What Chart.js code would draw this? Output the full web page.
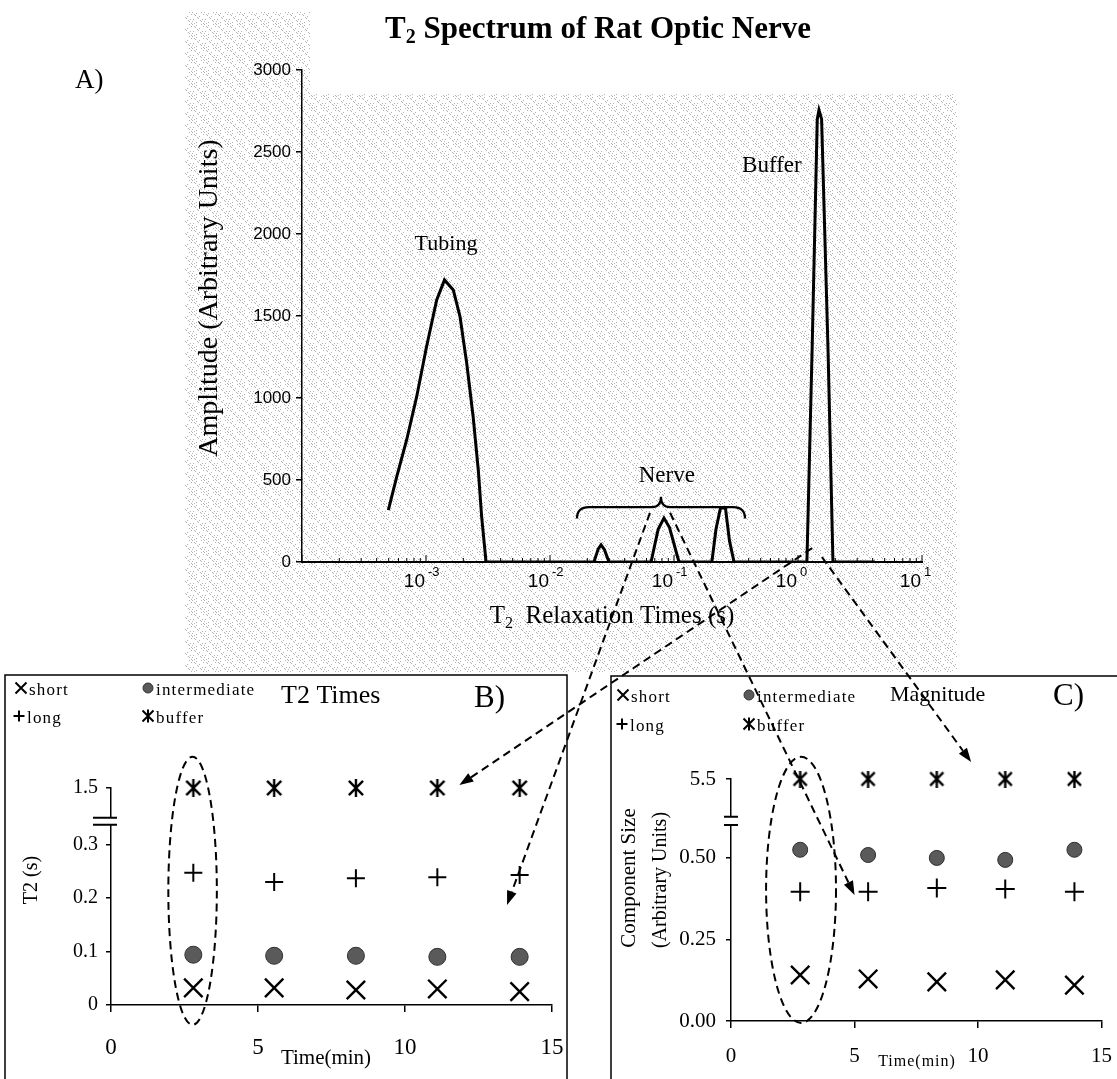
<!DOCTYPE html>
<html>
<head>
<meta charset="utf-8">
<title>T2 Spectrum of Rat Optic Nerve</title>
<script src="https://cdn.jsdelivr.net/npm/chart.js@4.4.1/dist/chart.umd.min.js"></script>
<style>
  body { margin: 0; background: #fff; }
  #page { position: relative; width: 1117px; height: 1079px; overflow: hidden; }
  #page canvas { position: absolute; left: 0; top: 0; }
</style>
</head>
<body>
<div id="page">
  <canvas id="specChart" width="1117" height="1079"></canvas>
  <canvas id="timesChart" width="1117" height="1079"></canvas>
  <canvas id="sizeChart" width="1117" height="1079"></canvas>
  <canvas id="notes" width="1117" height="1079"></canvas>
</div>
<script>
// A) T2 spectrum: relaxation time (s) vs amplitude
let specT2 = [4.97e-4, 5.81e-4, 6.98e-4, 8.41e-4, 1.01e-3, 1.22e-3, 1.41e-3, 1.66e-3, 1.88e-3, 2.13e-3,
  2.40e-3, 2.64e-3, 2.81e-3, 3.05e-3,
  0.0226, 0.0245, 0.0258, 0.0275, 0.0299,
  0.0653, 0.0745, 0.083, 0.092, 0.1097,
  0.202, 0.218, 0.237, 0.260, 0.280, 0.305,
  1.18, 1.30, 1.43, 1.476, 1.55, 1.75, 1.914, 4.18];
let specAmp = [317, 520, 744, 1008, 1313, 1598, 1720, 1659, 1496, 1212,
  886, 561, 276, 0,
  0, 80, 104, 75, 0,
  0, 200, 268, 210, 0,
  0, 200, 330, 330, 130, 0,
  0, 1300, 2700, 2756, 2700, 1270, 0, 0];
let decades = [1e-3, 1e-2, 1e-1, 1, 10];

// B) and C) components at five time points
let timeMin = [2.8, 5.55, 8.33, 11.1, 13.9];
let t2Short = [0.032, 0.032, 0.028, 0.030, 0.025];
let t2Intermediate = [0.094, 0.092, 0.092, 0.090, 0.090];
let t2Long = [0.247, 0.230, 0.237, 0.239, 0.243];
let t2Buffer = [1.5, 1.5, 1.5, 1.5, 1.5];
let sizeShort = [0.141, 0.129, 0.120, 0.126, 0.110];
let sizeIntermediate = [0.525, 0.509, 0.500, 0.494, 0.525];
let sizeLong = [0.396, 0.396, 0.408, 0.405, 0.396];
let sizeBuffer = [5.5, 5.5, 5.5, 5.5, 5.5];
let t2TickLabels = ['0', '0.1', '0.2', '0.3', '1.5'];
let sizeTickLabels = ['0.00', '0.25', '0.50', '5.5'];

// broken y axes: buffer values sit just above the break
let t2Top = 0.4056, sizeTop = 0.742;
let t2Axis = v => v > 1 ? t2Top + (v - 1.5) : v;
let sizeAxis = v => v > 1 ? sizeTop + (v - 5.5) : v;

const SERIF = "'Liberation Serif', 'Times New Roman', serif";
const SANS = "'Liberation Sans', Arial, sans-serif";
Chart.defaults.color = '#000';

function asterisk(size, lw) {
  let c = document.createElement('canvas');
  c.width = c.height = size;
  let g = c.getContext('2d');
  g.strokeStyle = '#000'; g.lineWidth = lw;
  let m = lw * 0.8;
  g.beginPath();
  g.moveTo(m, m); g.lineTo(size - m, size - m);
  g.moveTo(size - m, m); g.lineTo(m, size - m);
  g.moveTo(size / 2, 0); g.lineTo(size / 2, size);
  g.stroke();
  return c;
}

function marker(ctx, style, x, y, r) {
  ctx.save();
  ctx.strokeStyle = '#000'; ctx.lineWidth = 2;
  ctx.beginPath();
  if (style === 'crossRot' || style === 'asterisk') {
    ctx.moveTo(x - r, y - r); ctx.lineTo(x + r, y + r);
    ctx.moveTo(x + r, y - r); ctx.lineTo(x - r, y + r);
    if (style === 'asterisk') { ctx.moveTo(x, y - r - 1); ctx.lineTo(x, y + r + 1); }
    ctx.stroke();
  } else if (style === 'cross') {
    ctx.moveTo(x - r, y); ctx.lineTo(x + r, y);
    ctx.moveTo(x, y - r); ctx.lineTo(x, y + r);
    ctx.stroke();
  } else {
    ctx.arc(x, y, r, 0, Math.PI * 2);
    ctx.fillStyle = '#5a5a5a'; ctx.fill();
    ctx.lineWidth = 1; ctx.strokeStyle = '#333'; ctx.stroke();
  }
  ctx.restore();
}

function richText(ctx, parts, cx, base) {
  let w = 0;
  parts.forEach(p => { ctx.font = p.font; w += ctx.measureText(p.t).width; });
  let xx = cx - w / 2;
  ctx.textAlign = 'left'; ctx.textBaseline = 'alphabetic';
  parts.forEach(p => {
    ctx.font = p.font;
    ctx.fillText(p.t, xx, base + (p.dy || 0));
    xx += ctx.measureText(p.t).width;
  });
}

function text(ctx, s, x, y, font, align, spacing) {
  ctx.save();
  ctx.font = font; ctx.fillStyle = '#000';
  ctx.textAlign = align || 'left'; ctx.textBaseline = 'alphabetic';
  if (spacing) ctx.letterSpacing = spacing;
  ctx.fillText(s, x, y);
  ctx.restore();
}

function vText(ctx, s, x, y, font) {
  ctx.save();
  ctx.translate(x, y); ctx.rotate(-Math.PI / 2);
  ctx.font = font; ctx.fillStyle = '#000';
  ctx.textAlign = 'center'; ctx.textBaseline = 'middle';
  ctx.fillText(s, 0, 0);
  ctx.restore();
}

// scanned-paper halftone behind panel A (fixed dot layout)
function stipple(ctx) {
  let n = 12;
  let c = document.createElement('canvas');
  c.width = c.height = n;
  let g = c.getContext('2d');
  g.fillStyle = '#fff'; g.fillRect(0, 0, n, n);
  g.fillStyle = '#b4b4b4';
  for (let i = 0; i < n; i++) {
    for (let j = 0; j < n; j++) {
      if ((i * 7 + j * 5 + i * j * 3) % 9 === 0) g.fillRect(i, j, 1, 1);
    }
  }
  return ctx.createPattern(c, 'repeat');
}

const specDecor = {
  id: 'specDecor',
  beforeDraw(chart) {
    let ctx = chart.ctx;
    ctx.save();
    ctx.fillStyle = stipple(ctx);
    ctx.fillRect(185, 12, 125, 660);
    ctx.fillRect(185, 94, 772, 578);
    ctx.restore();
  },
  afterDraw(chart) {
    let {ctx, chartArea, scales: {x, y}} = chart;
    ctx.save();
    ctx.fillStyle = '#000'; ctx.strokeStyle = '#000';

    // log ticks pointing into the plot
    ctx.lineWidth = 1;
    ctx.beginPath();
    for (let e = -4; e <= 0; e++) {
      for (let m = 1; m <= 9; m++) {
        let p = x.getPixelForValue(m * Math.pow(10, e));
        ctx.moveTo(p, chartArea.bottom);
        ctx.lineTo(p, chartArea.bottom - (m === 1 ? 7 : 4));
      }
    }
    let pEnd = x.getPixelForValue(10);
    ctx.moveTo(pEnd, chartArea.bottom); ctx.lineTo(pEnd, chartArea.bottom - 7);
    ctx.stroke();

    // decade labels 10^n
    decades.forEach(v => {
      let p = x.getPixelForValue(v);
      text(ctx, '10', p - 1, chartArea.bottom + 25, '19px ' + SANS, 'right');
      text(ctx, String(Math.round(Math.log10(v))), p + 2, chartArea.bottom + 14, '13px ' + SANS, 'left');
    });

    // titles
    ctx.fillStyle = '#000';
    richText(ctx, [
      {t: 'T', font: 'bold 31px ' + SERIF},
      {t: '2', font: 'bold 20px ' + SERIF, dy: 5},
      {t: ' Spectrum of Rat Optic Nerve', font: 'bold 31px ' + SERIF}
    ], 598, 38);
    richText(ctx, [
      {t: 'T', font: '25px ' + SERIF},
      {t: '2', font: '16px ' + SERIF, dy: 5},
      {t: '  Relaxation Times (s)', font: '25px ' + SERIF}
    ], (chartArea.left + chartArea.right) / 2, 623);
    vText(ctx, 'Amplitude (Arbitrary Units)', 210, 298, '28px ' + SERIF);
    text(ctx, 'A)', 75, 88, '27px ' + SERIF);
    text(ctx, 'Tubing', x.getPixelForValue(1.45e-3), y.getPixelForValue(1900), '22px ' + SERIF, 'center');
    text(ctx, 'Buffer', x.getPixelForValue(0.616), y.getPixelForValue(2380), '23px ' + SERIF, 'center');
    text(ctx, 'Nerve', x.getPixelForValue(0.0875), y.getPixelForValue(490), '23px ' + SERIF, 'center');

    // brace over the nerve peaks
    let bl = x.getPixelForValue(0.0165), br = x.getPixelForValue(0.374), bm = x.getPixelForValue(0.0785);
    let yLine = y.getPixelForValue(335), yEnd = y.getPixelForValue(265), yTip = y.getPixelForValue(398);
    ctx.lineWidth = 2.2;
    ctx.beginPath();
    ctx.moveTo(bl, yEnd);
    ctx.quadraticCurveTo(bl, yLine, bl + 12, yLine);
    ctx.lineTo(bm - 9, yLine);
    ctx.quadraticCurveTo(bm, yLine, bm, yTip);
    ctx.quadraticCurveTo(bm, yLine, bm + 9, yLine);
    ctx.lineTo(br - 12, yLine);
    ctx.quadraticCurveTo(br, yLine, br, yEnd);
    ctx.stroke();
    ctx.restore();
  }
};

function panelDecor(o) {
  return {
    id: 'panelDecor',
    afterDraw(chart) {
      let {ctx, chartArea, scales: {y}} = chart;
      ctx.save();
      ctx.strokeStyle = '#000'; ctx.lineWidth = 1.5;
      ctx.strokeRect(o.box[0], o.box[1], o.box[2], o.box[3]);

      // legend: two columns, two rows
      o.legend.forEach(l => {
        marker(ctx, l.style, l.x, l.y, l.style === 'circle' ? 5 : 5.5);
        text(ctx, l.name, l.x + 8, l.y + 7, '17px ' + SERIF, 'left', '1.2px');
      });
      text(ctx, o.title, o.titleX, o.titleY, o.titleFont, 'left');
      text(ctx, o.tag, o.tagX, o.titleY + 4, '31px ' + SERIF, 'left');

      // axis break marks
      let b0 = y.getPixelForValue(o.brk[0]), b1 = y.getPixelForValue(o.brk[1]);
      let ax = chartArea.left;
      ctx.fillStyle = '#fff';
      ctx.fillRect(ax - 2, b1, 4, b0 - b1);
      ctx.beginPath();
      ctx.moveTo(ax - o.brkW[0], b0); ctx.lineTo(ax + o.brkW[1], b0);
      ctx.moveTo(ax - o.brkW[0], b1); ctx.lineTo(ax + o.brkW[1], b1);
      ctx.lineWidth = 2; ctx.stroke();

      // axis titles
      text(ctx, 'Time(min)', o.xTitle[0], o.xTitle[1], o.xTitleFont, 'center', o.xTitleSpacing);
      o.yTitles.forEach(t => vText(ctx, t.s, t.x, t.y, t.font));
      ctx.restore();
    }
  };
}

function panelScales(yMax, yTicks, yLabels, tickFont, xFont, xPad, yPad, yWidth) {
  return {
    x: {
      type: 'linear', min: 0, max: 15,
      ticks: {stepSize: 5, autoSkip: false, maxRotation: 0, font: {family: SERIF, size: xFont}, padding: xPad, color: '#000'},
      grid: {drawOnChartArea: false, tickLength: 7, color: '#000', lineWidth: 1.5},
      border: {color: '#000', width: 1.5},
      afterFit(s) { s.height = 50; s.paddingLeft = 0; s.paddingRight = 0; }
    },
    y: {
      type: 'linear', min: 0, max: yMax,
      afterBuildTicks(s) { s.ticks = yTicks.map(v => ({value: v})); },
      ticks: {autoSkip: false, font: {family: SERIF, size: tickFont}, padding: yPad, color: '#000',
        callback: (v, i) => yLabels[i]},
      grid: {drawOnChartArea: false, tickLength: 5, color: '#000', lineWidth: 1.5},
      border: {color: '#000', width: 1.5},
      afterFit(s) { s.width = yWidth; s.paddingTop = 0; s.paddingBottom = 0; }
    }
  };
}

function pointSets(xs, short, inter, long, buffer, axisFn, sz) {
  return [
    {label: 'short', data: xs.map((t, i) => ({x: t, y: short[i]})), pointStyle: 'crossRot',
      pointRadius: sz.x, borderColor: '#000', borderWidth: 2.4},
    {label: 'intermediate', data: xs.map((t, i) => ({x: t, y: inter[i]})), pointStyle: 'circle',
      pointRadius: sz.c, backgroundColor: '#5a5a5a', borderColor: '#2e2e2e', borderWidth: 1},
    {label: 'long', data: xs.map((t, i) => ({x: t, y: long[i]})), pointStyle: 'cross',
      pointRadius: sz.p, borderColor: '#000', borderWidth: 2},
    {label: 'buffer', data: xs.map((t, i) => ({x: t, y: axisFn(buffer[i])})), pointStyle: asterisk(sz.a, 2.4),
      pointRadius: 8, borderColor: '#000'}
  ].map(d => Object.assign(d, {showLine: false, clip: false}));
}

const common = {
  responsive: false, animation: false, devicePixelRatio: 1,
  plugins: {legend: {display: false}, tooltip: {enabled: false}}
};

// A) spectrum
let specChart = new Chart(document.getElementById('specChart'), {
  type: 'line',
  data: {
    datasets: [{
      data: specT2.map((t, i) => ({x: t, y: specAmp[i]})),
      borderColor: '#000', borderWidth: 3, pointRadius: 0, tension: 0, fill: false
    }]
  },
  options: Object.assign({}, common, {
    layout: {padding: {left: 232, top: 70, right: 195, bottom: 477}},
    scales: {
      x: {
        type: 'logarithmic', min: 1e-4, max: 10,
        ticks: {display: false}, grid: {display: false},
        border: {color: '#000', width: 2},
        afterFit(s) { s.height = 40; s.paddingLeft = 0; s.paddingRight = 0; }
      },
      y: {
        min: 0, max: 3000,
        ticks: {stepSize: 500, font: {family: SANS, size: 17}, padding: 5, color: '#000',
          callback: v => String(v)},
        grid: {drawOnChartArea: false, tickLength: 6, color: '#000', lineWidth: 1.5},
        border: {color: '#000', width: 1.5},
        afterFit(s) { s.width = 70; s.paddingTop = 0; s.paddingBottom = 0; }
      }
    }
  }),
  plugins: [specDecor]
});

// B) T2 times
let timesChart = new Chart(document.getElementById('timesChart'), {
  type: 'scatter',
  data: {datasets: pointSets(timeMin, t2Short, t2Intermediate, t2Long, t2Buffer, t2Axis, {x: 13, c: 8.5, p: 9, a: 18})},
  options: Object.assign({}, common, {
    layout: {padding: {left: 51, top: 788, right: 565, bottom: 24}},
    scales: panelScales(t2Top, [0, 0.1, 0.2, 0.3, t2Top], t2TickLabels, 20, 23, 22, 8, 60)
  }),
  plugins: [panelDecor({
    box: [5, 675, 562, 420],
    legend: [
      {style: 'crossRot', name: 'short', x: 21, y: 688},
      {style: 'circle', name: 'intermediate', x: 148, y: 688},
      {style: 'cross', name: 'long', x: 19, y: 716},
      {style: 'asterisk', name: 'buffer', x: 148, y: 716}
    ],
    title: 'T2 Times', titleX: 281, titleY: 703, titleFont: '26px ' + SERIF,
    tag: 'B)', tagX: 474,
    brk: [0.337, 0.350], brkW: [18, 6],
    xTitle: [326, 1064], xTitleFont: '21px ' + SERIF,
    yTitles: [{s: 'T2 (s)', x: 32, y: 880, font: '20px ' + SERIF}]
  })]
});

// C) magnitude
let sizeChart = new Chart(document.getElementById('sizeChart'), {
  type: 'scatter',
  data: {datasets: pointSets(timeMin, sizeShort, sizeIntermediate, sizeLong, sizeBuffer, sizeAxis, {x: 13, c: 7.5, p: 9.5, a: 17})},
  options: Object.assign({}, common, {
    layout: {padding: {left: 661, top: 779, right: 5, bottom: 8}},
    scales: panelScales(sizeTop, [0, 0.25, 0.5, sizeTop], sizeTickLabels, 21, 21, 16, 10, 70)
  }),
  plugins: [panelDecor({
    box: [611, 676, 520, 420],
    legend: [
      {style: 'crossRot', name: 'short', x: 623, y: 695},
      {style: 'circle', name: 'intermediate', x: 749, y: 695},
      {style: 'cross', name: 'long', x: 622, y: 724},
      {style: 'asterisk', name: 'buffer', x: 749, y: 724}
    ],
    title: 'Magnitude', titleX: 890, titleY: 701, titleFont: '22px ' + SERIF,
    tag: 'C)', tagX: 1053,
    brk: [0.601, 0.626], brkW: [7, 7],
    xTitle: [917, 1066], xTitleFont: '16px ' + SERIF, xTitleSpacing: '1px',
    yTitles: [
      {s: 'Component Size', x: 629, y: 878, font: '21px ' + SERIF},
      {s: '(Arbitrary Units)', x: 661, y: 880, font: '20px ' + SERIF}
    ]
  })]
});

// dashed call-outs linking the spectrum peaks to panels B and C
let charts = {spec: specChart, times: timesChart, size: sizeChart};
let pointers = [
  {from: ['spec', 1.30, 85], to: ['times', 11.85, 0.411]},
  {from: ['spec', 0.064, 300], to: ['times', 13.47, 0.187]},
  {from: ['spec', 0.093, 300], to: ['size', 5.0, 0.386]},
  {from: ['spec', 1.56, 30], to: ['size', 9.72, 0.794]}
];
let ovals = [
  {chart: 'times', x: [1.95, 3.6], y: [-0.037, 0.464]},
  {chart: 'size', x: [1.42, 4.25], y: [-0.006, 0.81]}
];

function toPx(ref) {
  let c = charts[ref[0]];
  return [c.scales.x.getPixelForValue(ref[1]), c.scales.y.getPixelForValue(ref[2])];
}

let nctx = document.getElementById('notes').getContext('2d');
nctx.strokeStyle = '#000'; nctx.fillStyle = '#000';
pointers.forEach(a => {
  let [x0, y0] = toPx(a.from), [x1, y1] = toPx(a.to);
  let ang = Math.atan2(y1 - y0, x1 - x0), L = 14;
  let bx = x1 - L * Math.cos(ang), by = y1 - L * Math.sin(ang);
  nctx.save();
  nctx.setLineDash([8, 5]); nctx.lineWidth = 2;
  nctx.beginPath(); nctx.moveTo(x0, y0); nctx.lineTo(bx, by); nctx.stroke();
  nctx.setLineDash([]);
  nctx.beginPath();
  nctx.moveTo(x1, y1);
  nctx.lineTo(bx + 5 * Math.sin(ang), by - 5 * Math.cos(ang));
  nctx.lineTo(bx - 5 * Math.sin(ang), by + 5 * Math.cos(ang));
  nctx.closePath(); nctx.fill();
  nctx.restore();
});
ovals.forEach(o => {
  let c = charts[o.chart];
  let xa = o.x.map(v => c.scales.x.getPixelForValue(v));
  let ya = o.y.map(v => c.scales.y.getPixelForValue(v));
  nctx.save();
  nctx.setLineDash([8, 5]); nctx.lineWidth = 2;
  nctx.beginPath();
  nctx.ellipse((xa[0] + xa[1]) / 2, (ya[0] + ya[1]) / 2, Math.abs(xa[1] - xa[0]) / 2, Math.abs(ya[1] - ya[0]) / 2, 0, 0, Math.PI * 2);
  nctx.stroke();
  nctx.restore();
});
</script>
</body>
</html>
